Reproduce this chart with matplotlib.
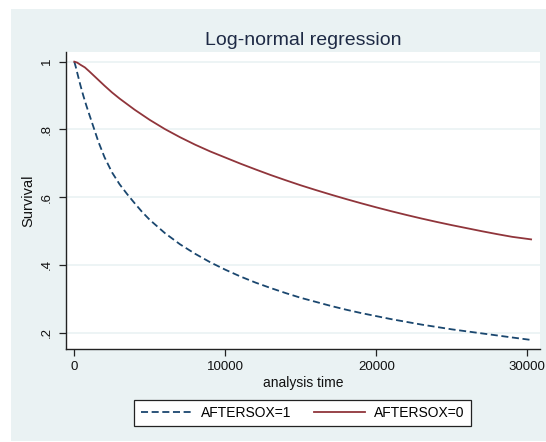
"""Survival curves from a log-normal regression, two AFTERSOX groups."""
import matplotlib
matplotlib.use("Agg")
import matplotlib.pyplot as plt
from matplotlib.patches import Rectangle

plt.rcParams["font.family"] = ["Liberation Sans", "DejaVu Sans"]

# ── Data ───────────────────────────────────────────────────────────────

# AFTERSOX=1 (dashed)
t_after1 = [0, 100, 200, 400, 600, 800, 1000, 1300, 1600, 2000, 2500, 3000,
            3500, 4000, 4500, 5000, 6000, 7000, 8000, 9000, 10000, 11000,
            12000, 13000, 14000, 15000, 16000, 17000, 18000, 19000, 20000,
            21000, 22000, 23000, 24000, 25000, 26000, 27000, 28000, 29000,
            30200]
s_after1 = [1.000, 0.984, 0.966, 0.931, 0.899, 0.870, 0.843, 0.803, 0.763,
            0.718, 0.673, 0.638, 0.609, 0.582, 0.556, 0.533, 0.494, 0.461,
            0.433, 0.408, 0.386, 0.366, 0.348, 0.332, 0.317, 0.303, 0.291,
            0.279, 0.268, 0.258, 0.249, 0.240, 0.232, 0.224, 0.217, 0.210,
            0.204, 0.198, 0.192, 0.186, 0.179]

# AFTERSOX=0 (solid)
t_after0 = [0, 200, 400, 700, 1000, 1500, 2000, 2500, 3000, 4000, 5000, 6000,
            7000, 8000, 9000, 10000, 11000, 12000, 13000, 14000, 15000, 16000,
            17000, 18000, 19000, 20000, 21000, 22000, 23000, 24000, 25000,
            26000, 27000, 28000, 29000, 30250]
s_after0 = [1.000, 0.997, 0.991, 0.983, 0.971, 0.950, 0.929, 0.909, 0.891,
            0.858, 0.828, 0.801, 0.777, 0.755, 0.735, 0.717, 0.699, 0.682,
            0.6655, 0.650, 0.635, 0.621, 0.6075, 0.5945, 0.582, 0.570,
            0.5585, 0.5475, 0.537, 0.527, 0.5175, 0.5085, 0.4995, 0.491,
            0.483, 0.4755]

x_ticks = [0, 10000, 20000, 30000]
y_ticks = [0.2, 0.4, 0.6, 0.8, 1.0]
y_tick_labels = [".2", ".4", ".6", ".8", "1"]

NAVY = "#1a476f"
MAROON = "#90353b"
PANEL = "#eaf2f3"

# ── Plot ───────────────────────────────────────────────────────────────

W, H = 546, 442
fig = plt.figure(figsize=(W / 100, H / 100), dpi=100, facecolor="white")
# panel behind the graph region, kept underneath the axes
fig.add_artist(Rectangle((11 / W, 1 - 441 / H), (W - 11) / W, (441 - 9) / H,
                         transform=fig.transFigure, facecolor=PANEL,
                         edgecolor="none", zorder=-10))

ax = fig.add_axes([65.7 / W, 1 - 349 / H, (540 - 65.7) / W, (349 - 52.3) / H])
ax.set_facecolor("white")

ax.plot(t_after1, s_after1, color=NAVY, lw=1.3, dashes=(3.9, 2.0),
        label="AFTERSOX=1")
ax.plot(t_after0, s_after0, color=MAROON, lw=1.3, label="AFTERSOX=0")

ax.set_xlim(-570, 30840)
ax.set_ylim(0.152, 1.0276)

ax.set_xticks(x_ticks)
ax.set_xticklabels([str(v) for v in x_ticks])
ax.set_yticks(y_ticks)
ax.set_yticklabels(y_tick_labels, rotation=90, va="center")
ax.tick_params(axis="both", length=5, width=0.9, color="#222222",
               labelsize=9.5, labelcolor="#111111", pad=4)

ax.grid(axis="y", color=PANEL, lw=1.2)
ax.set_axisbelow(True)
for side in ("top", "right"):
    ax.spines[side].set_visible(False)
for side in ("left", "bottom"):
    ax.spines[side].set_color("#222222")
    ax.spines[side].set_linewidth(1.0)

ax.set_xlabel("analysis time", fontsize=10, labelpad=2, color="#111111")
ax.set_ylabel("Survival", fontsize=10.5, labelpad=4, color="#111111")
ax.set_title("Log-normal regression", fontsize=14, color="#1e2a45", pad=5)

leg = fig.legend(loc="center", bbox_to_anchor=(302.5 / W, 1 - 413 / H),
                 ncol=2, fontsize=10, frameon=True, fancybox=False,
                 handlelength=3.7, handletextpad=0.65, columnspacing=1.6,
                 borderpad=0.45)
leg.get_frame().set_edgecolor("#222222")
leg.get_frame().set_linewidth(0.9)
leg.get_frame().set_facecolor("white")
leg.get_frame().set_alpha(1)

fig.savefig("out.png", dpi=100, facecolor=fig.get_facecolor())
